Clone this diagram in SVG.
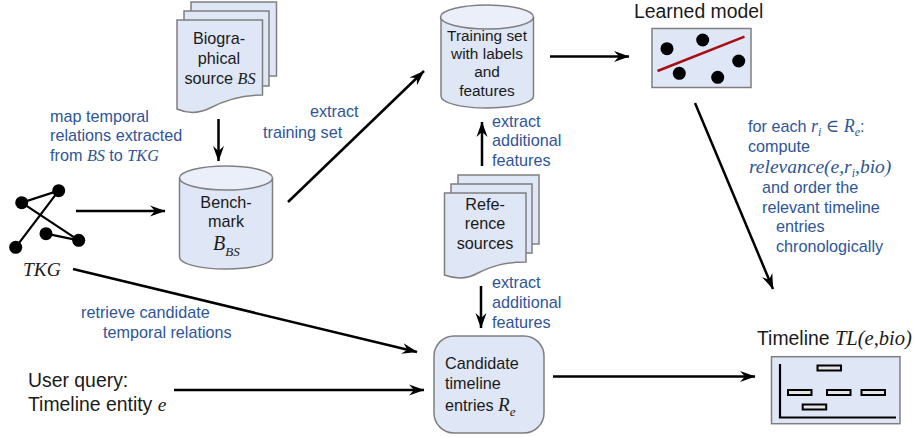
<svg xmlns="http://www.w3.org/2000/svg" width="917" height="437" viewBox="0 0 917 437">
<style>
text{font-family:"Liberation Sans",Arial,sans-serif;font-size:16.200px;fill:#1a1a1a}
.c{text-anchor:middle}
.t{font-size:15.400px}
.b{fill:#2f5597}
.h{font-size:19.400px}
.m{font-family:"Liberation Serif","DejaVu Serif",serif;font-style:italic}
.sh{fill:#dfe6f6;stroke:#7f7f7f;stroke-width:1.5}
.top{fill:#eaeffa;stroke:#7f7f7f;stroke-width:1.5}
.con{fill:none;stroke:#000;stroke-width:2.5;marker-end:url(#a)}
.dot{fill:#000}
.edge{fill:none;stroke:#000;stroke-width:2.2}
.bar{fill:#e4e4e4;stroke:#000;stroke-width:2}
</style>
<defs>
<marker id="a" markerUnits="userSpaceOnUse" markerWidth="16" markerHeight="12" viewBox="0 0 16 12" refX="15" refY="6" orient="auto"><path d="M0,0.5L15.5,6L0,11.5L5,6Z" fill="#000"/></marker>
</defs>
<rect width="917" height="437" fill="#fff"/>
<g id="connectors">
<path class="con" d="M218.5,119V161"/>
<path class="con" d="M76,211H165"/>
<path class="con" d="M288,202L424,71"/>
<path class="con" d="M550,56.5H629"/>
<path class="con" d="M482,166V122"/>
<path class="con" d="M481,286V328"/>
<path class="con" d="M73,269L417,352"/>
<path class="con" d="M174,390H424"/>
<path class="con" d="M553,376.5H755"/>
<path class="con" d="M695,103L773,289"/>
</g>
<g id="biographical-source">
<rect class="sh" x="191" y="2" width="85.500" height="74"/>
<rect class="sh" x="184" y="11" width="85" height="75"/>
<path class="sh" d="M177,20H262.500V95C240,95 225,100 210,108C198,114 186,113 177,109Z"/>
<text class="c" x="219" y="44">Biogra-</text>
<text class="c" x="219" y="64">phical</text>
<text class="c" x="220" y="84">source <tspan class="m">BS</tspan></text>
</g>
<g id="benchmark">
<path class="sh" d="M179.500,178V257C179.500,264 200,269 226,269C252,269 272.500,264 272.500,257V178"/>
<ellipse class="top" cx="226" cy="178" rx="46.500" ry="12"/>
<text class="c" x="226" y="208">Bench-</text>
<text class="c" x="226" y="227">mark</text>
<text class="m" x="213" y="250" style="font-size:20px">B<tspan dy="6" style="font-size:13px">BS</tspan></text>
</g>
<g id="training-set">
<path class="sh" d="M441,17V96C441,103 461,108 487,108C513,108 533.500,103 533.500,96V17"/>
<ellipse class="top" cx="487" cy="17" rx="46.500" ry="12"/>
<text class="c t" x="487" y="41">Training set</text>
<text class="c t" x="487" y="59">with labels</text>
<text class="c t" x="487" y="77">and</text>
<text class="c t" x="487" y="96">features</text>
</g>
<g id="reference-sources">
<rect class="sh" x="458" y="175" width="81" height="69"/>
<rect class="sh" x="451" y="184" width="81" height="69"/>
<path class="sh" d="M444.500,193H526V262C505,262 492,266 478,273C466,280 455,279 444.500,275Z"/>
<text class="c" x="485" y="210">Refe-</text>
<text class="c" x="485" y="229">rence</text>
<text class="c" x="485" y="249">sources</text>
</g>
<g id="candidate-entries">
<rect class="sh" x="434" y="336" width="110" height="97" rx="20"/>
<text x="445" y="369">Candidate</text>
<text x="445" y="389">timeline</text>
<text x="445" y="411">entries <tspan class="m" style="font-size:19px">R</tspan><tspan class="m" dy="5" style="font-size:13px">e</tspan></text>
</g>
<g id="learned-model">
<text class="h" x="634" y="18">Learned model</text>
<rect class="sh" x="652" y="28.500" width="99" height="59"/>
<path d="M657.500,71L744.500,36.700" stroke="#a50f15" stroke-width="2.500"/>
<circle class="dot" cx="667" cy="48.700" r="6.500"/>
<circle class="dot" cx="702.700" cy="40" r="6.500"/>
<circle class="dot" cx="738.700" cy="61" r="6.500"/>
<circle class="dot" cx="717.700" cy="77.300" r="6.500"/>
<circle class="dot" cx="679.300" cy="73.300" r="6.500"/>
</g>
<g id="timeline">
<text class="h" x="757" y="345">Timeline <tspan class="m" style="font-size:20.500px">TL(e,bio)</tspan></text>
<rect class="sh" x="771.500" y="356.700" width="128.500" height="67"/>
<path d="M780,364V417.500H896" fill="none" stroke="#000" stroke-width="2.200"/>
<rect class="bar" x="817.500" y="365.500" width="23.500" height="5"/>
<rect class="bar" x="788" y="390" width="23.500" height="5"/>
<rect class="bar" x="827" y="390" width="23.500" height="5"/>
<rect class="bar" x="861.500" y="390" width="23.500" height="5"/>
<rect class="bar" x="802.700" y="404.500" width="23.500" height="5"/>
</g>
<g id="tkg">
<path class="edge" d="M15.700,247.300L58.700,190.700L21.700,202.700L78.700,240.300L46,233.700"/>
<circle class="dot" cx="21.700" cy="202.700" r="6.500"/>
<circle class="dot" cx="58.700" cy="190.700" r="6.500"/>
<circle class="dot" cx="15.700" cy="247.300" r="6.500"/>
<circle class="dot" cx="46" cy="233.700" r="6.500"/>
<circle class="dot" cx="78.700" cy="240.300" r="6.500"/>
<text class="m h" x="23" y="276">TKG</text>
</g>
<g id="user-query">
<text class="h" x="28" y="387">User query:</text>
<text class="h" x="28" y="411">Timeline entity <tspan class="m">e</tspan></text>
</g>
<g id="labels">
<text class="b" x="50" y="122">map temporal</text>
<text class="b" x="50" y="141">relations extracted</text>
<text class="b" x="50" y="161">from <tspan class="m b">BS</tspan> to <tspan class="m b">TKG</tspan></text>
<text class="b" x="310" y="117">extract</text>
<text class="b" x="263" y="138">training set</text>
<text class="b" x="492" y="127">extract</text>
<text class="b" x="492" y="146">additional</text>
<text class="b" x="492" y="166">features</text>
<text class="b" x="492" y="288">extract</text>
<text class="b" x="492" y="308">additional</text>
<text class="b" x="492" y="328">features</text>
<text class="b" x="81" y="318">retrieve candidate</text>
<text class="b" x="103" y="338">temporal relations</text>
<text class="b" x="748" y="132">for each <tspan class="m b" style="font-size:18px">r</tspan><tspan class="m b" dy="4" style="font-size:12px">i</tspan><tspan dy="-4"> </tspan><tspan class="m b" style="font-size:18px">∈ R</tspan><tspan class="m b" dy="4" style="font-size:12px">e</tspan><tspan dy="-4">:</tspan></text>
<text class="b" x="748" y="152">compute</text>
<text class="b m" x="749" y="173" style="font-size:19.500px">relevance(e,r<tspan dy="4" style="font-size:12px">i</tspan><tspan dy="-4">,bio)</tspan></text>
<text class="b" x="762" y="193">and order the</text>
<text class="b" x="762" y="213">relevant timeline</text>
<text class="b" x="776" y="232">entries</text>
<text class="b" x="776" y="252">chronologically</text>
</g>
</svg>
